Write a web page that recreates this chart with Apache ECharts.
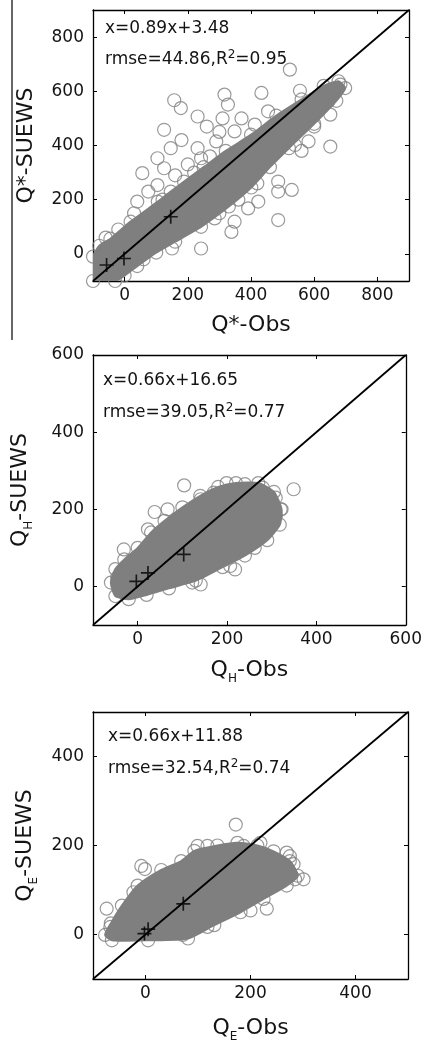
<!DOCTYPE html>
<html><head><meta charset="utf-8">
<script src="https://cdn.jsdelivr.net/npm/echarts@6/dist/echarts.min.js"></script>
<style>html,body{margin:0;padding:0;background:#fff}#c{width:425px;height:1044px}</style>
</head><body><div id="c"></div>
<script>
// ---- tick labels ----
const p1Ticks = [0, 200, 400, 600, 800];
const p2Ticks = [0, 200, 400, 600];
const p3Ticks = [0, 200, 400];
// ---- axis ranges ----
const p1Range = [-100, 900];
const p2Range = [-100, 600];
const p3Range = [-100, 500];
// ---- annotation texts ----
const p1Text = ['x=0.89x+3.48', 'rmse=44.86,R{sup|2}=0.95'];
const p2Text = ['x=0.66x+16.65', 'rmse=39.05,R{sup|2}=0.77'];
const p3Text = ['x=0.66x+11.88', 'rmse=32.54,R{sup|2}=0.74'];
// ---- dense point cloud outlines (Obs, SUEWS) ----
const p1Cloud = [[-100,-10],[-80,30],[-45,56],[19,119],[105,193],[146,230],[188,267],[250,320],[320,380],[400,440],[480,510],[560,570],[630,620],[677,637],[698,612],[670,565],[600,480],[520,390],[460,320],[401,245],[330,175],[242,100],[160,45],[100,5],[40,-45],[0,-80],[-30,-100],[-100,-100]];
const p2Cloud = [[-60,10],[-50,45],[-30,70],[0,100],[30,140],[60,170],[100,205],[140,235],[180,258],[220,268],[270,268],[305,245],[322,200],[318,160],[290,120],[240,80],[190,50],[130,15],[70,-5],[20,-22],[-20,-33],[-50,-25]];
const p3Cloud = [[-77,-1],[-66,25],[-45,65],[-15,110],[30,145],[68,165],[93,188],[137,200],[175,206],[213,200],[244,187],[275,165],[290,132],[269,110],[225,80],[181,50],[131,21],[81,-9],[5,-13],[-64,-13]];
// ---- scattered outlier circles ----
const p1Circles = [[157,567],[178,538],[231,507],[316,588],[327,551],[433,594],[555,602],[523,680],[125,458],[56,298],[104,254],[40,193],[231,390],[242,353],[290,415],[146,390],[104,353],[125,316],[348,452],[412,477],[507,477],[550,526],[539,402],[651,396],[651,514],[683,625],[645,563],[486,267],[529,236],[486,230],[486,125],[391,168],[423,193],[348,119],[338,81],[242,20],[178,156],[285,131],[380,328],[454,526],[582,415],[67,69],[200,330],[260,470],[310,500],[180,420],[75,230],[30,150],[420,260],[600,470],[160,290],[220,300],[270,360],[300,450],[370,500],[120,200],[-20,90],[-60,60],[60,-20],[150,20],[300,150],[360,200],[560,380]];
const p2Circles = [[104,262],[38,193],[349,252],[309,230],[-31,96],[-46,23],[141,5],[122,10],[262,100],[218,44],[207,53],[199,268],[309,183],[298,161],[23,148],[67,200],[170,243],[280,256],[141,226],[240,265],[320,200]];
const p3Circles = [[172,247],[104,163],[-1,147],[-74,58],[-67,17],[301,124],[285,124],[275,176],[269,184],[200,54],[118,17],[71,-1],[99,199],[187,199],[219,206],[118,199],[-23,95],[-8,154],[260,147],[282,158],[231,58]];
// ---- highlighted "+" markers ----
const p1Plus = [[-57,-41],[-2,-17],[146,137]];
const p2Plus = [[-3,13],[23,35],[103,83]];
const p3Plus = [[-2,2],[5,12],[72,69]];

const FONT = 'DejaVu Sans';
const TXT = '#141414';
const GRAY = '#7f7f7f';
const grids = [
  {left: 93, top: 10, width: 316, height: 271},
  {left: 93, top: 355, width: 314, height: 270},
  {left: 93, top: 712, width: 315, height: 269}
];
const panels = [
  {range: p1Range, ticks: p1Ticks, cloud: p1Cloud, circles: p1Circles, plus: p1Plus,
   xname: '{m|Q*-Obs}', yname: '{m|Q*-SUEWS}', xgap: 33, ygap: 56},
  {range: p2Range, ticks: p2Ticks, cloud: p2Cloud, circles: p2Circles, plus: p2Plus,
   xname: '{m|Q}{s|H}{m|-Obs}', yname: '{m|Q}{s|H}{m|-SUEWS}', xgap: 30, ygap: 58},
  {range: p3Range, ticks: p3Ticks, cloud: p3Cloud, circles: p3Circles, plus: p3Plus,
   xname: '{m|Q}{s|E}{m|-Obs}', yname: '{m|Q}{s|E}{m|-SUEWS}', xgap: 34, ygap: 53}
];
const nameStyle = {
  fontFamily: FONT, fontSize: 22, color: TXT,
  rich: {
    m: {fontFamily: FONT, fontSize: 22, color: TXT},
    s: {fontFamily: FONT, fontSize: 12, color: TXT, padding: [18, 0, 0, 0]}
  }
};
const lineSty = {color: '#000', width: 1.3};
const xAxes = [], yAxes = [], series = [];
panels.forEach((p, i) => {
  const base = {
    type: 'value', gridIndex: i, min: p.range[0], max: p.range[1],
    splitLine: {show: false}, axisLine: {show: true, onZero: false, lineStyle: lineSty}
  };
  const tick = {show: true, inside: true, length: 4, customValues: p.ticks, lineStyle: {color: '#000', width: 1}};
  xAxes.push(Object.assign({}, base, {
    position: 'bottom', name: p.xname, nameLocation: 'middle', nameGap: p.xgap, nameTextStyle: nameStyle,
    axisTick: tick,
    axisLabel: {customValues: p.ticks, fontFamily: FONT, fontSize: 17, color: TXT, margin: 6}
  }));
  xAxes.push(Object.assign({}, base, {position: 'top', axisTick: tick, axisLabel: {show: false}}));
  yAxes.push(Object.assign({}, base, {
    position: 'left', name: p.yname, nameLocation: 'middle', nameGap: p.ygap, nameTextStyle: nameStyle,
    axisTick: tick,
    axisLabel: {customValues: p.ticks, fontFamily: FONT, fontSize: 17, color: TXT, margin: 9}
  }));
  yAxes.push(Object.assign({}, base, {position: 'right', axisTick: tick, axisLabel: {show: false}}));
  const xi = i * 2, yi = i * 2;
  const cloud = p.cloud;
  series.push({
    type: 'custom', xAxisIndex: xi, yAxisIndex: yi, clip: true, z: 1, silent: true,
    data: cloud, encode: {x: 0, y: 1},
    renderItem: function (params, api) {
      if (params.dataIndex !== 0) return null;
      const pts = cloud.map(v => api.coord(v));
      return {type: 'polygon', shape: {points: pts, smooth: 0.2}, style: {fill: GRAY, stroke: GRAY, lineWidth: 2}};
    }
  });
  series.push({
    type: 'scatter', xAxisIndex: xi, yAxisIndex: yi, z: 2, silent: true, clip: true,
    symbol: 'circle', symbolSize: 13,
    itemStyle: {color: 'rgba(0,0,0,0)', borderColor: GRAY, borderWidth: 1.2},
    data: p.circles.concat(cloud)
  });
  series.push({
    type: 'line', xAxisIndex: xi, yAxisIndex: yi, z: 3, silent: true, clip: true,
    symbol: 'none', lineStyle: {color: '#000', width: 1.8},
    data: [[p.range[0], p.range[0]], [p.range[1], p.range[1]]]
  });
  series.push({
    type: 'scatter', xAxisIndex: xi, yAxisIndex: yi, z: 4, silent: true,
    symbol: 'path://M4.4,0H5.6V4.4H10V5.6H5.6V10H4.4V5.6H0V4.4H4.4Z', symbolSize: 14,
    itemStyle: {color: '#000'},
    data: p.plus
  });
});
const texts = [p1Text, p2Text, p3Text];
const textPos = [[105, 29, 60], [103, 381, 413], [108, 737, 769]];
const graphics = [{type: 'line', shape: {x1: 12, y1: 0, x2: 12, y2: 340}, style: {stroke: '#000', lineWidth: 1.2}}];
texts.forEach((t, i) => {
  t.forEach((s, j) => {
    graphics.push({type: 'text', x: textPos[i][0], y: textPos[i][1 + j], z: 10,
      style: {text: s, font: '17px "DejaVu Sans"', fill: TXT, verticalAlign: 'middle', align: 'left',
        rich: {sup: {fontFamily: FONT, fontSize: 12, fill: TXT, padding: [0, 0, 10, 0]}}}});
  });
});
const chart = echarts.init(document.getElementById('c'), null, {renderer: 'canvas'});
chart.setOption({
  animation: false,
  backgroundColor: '#fff',
  grid: grids,
  xAxis: xAxes,
  yAxis: yAxes,
  series: series,
  graphic: graphics
});
</script></body></html>
